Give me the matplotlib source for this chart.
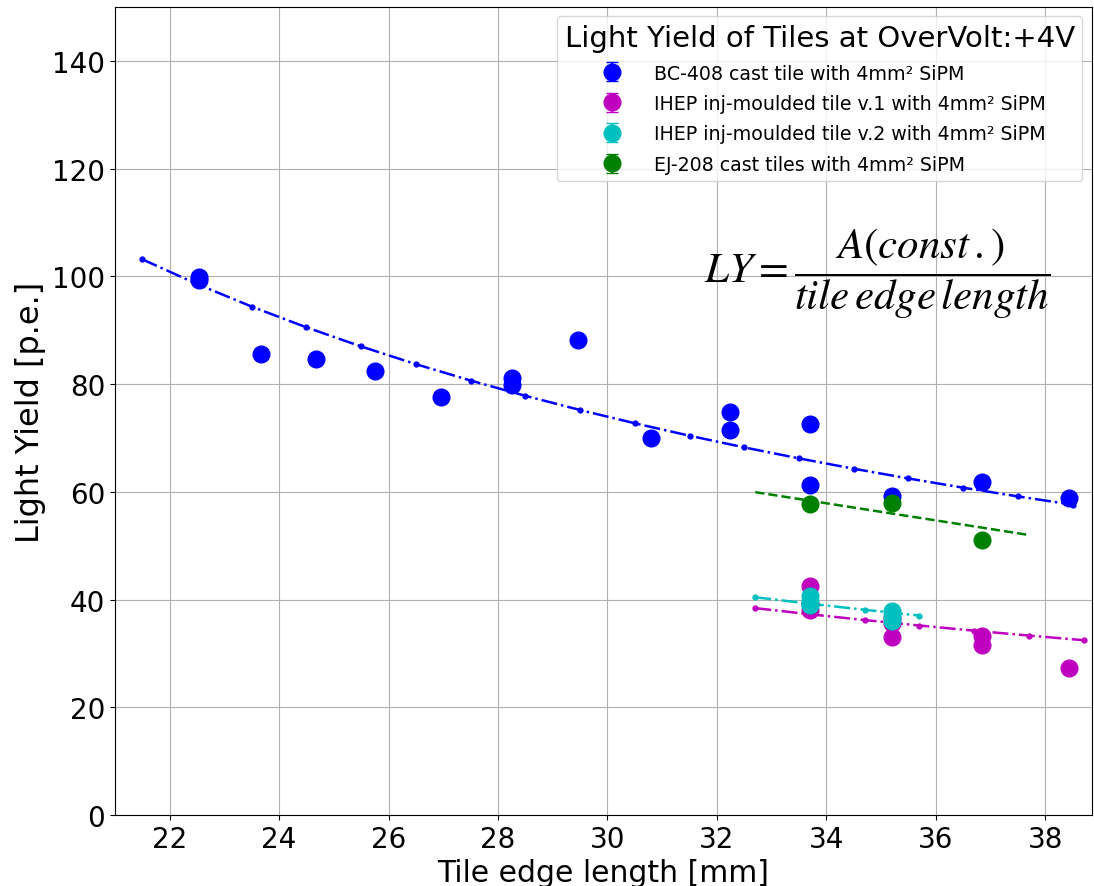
import numpy as np
import matplotlib
matplotlib.use('Agg')
import matplotlib.pyplot as plt

ftsize=20

### Données

# BC-408 cast tile
x_bc=np.array([22.54,22.54,23.67,24.67,25.76,26.95,28.26,28.26,29.47,30.8,32.24,32.24,33.7,33.7,35.2,36.84,38.44])
y_bc=np.array([99.9,99.3,85.6,84.7,82.5,77.6,81.1,79.9,88.2,69.9,74.8,71.5,72.6,61.3,59.3,61.9,58.8])

# IHEP v.1
x_v1=np.array([33.7,33.7,33.7,35.2,35.2,35.2,36.84,36.84,38.44])
y_v1=np.array([42.5,39.2,38.0,36.6,35.6,33.0,33.2,31.5,27.3])

# IHEP v.2
x_v2=np.array([33.7,33.7,33.7,35.2,35.2,35.2])
y_v2=np.array([40.6,39.8,39.0,37.9,36.9,36.1])

# EJ-208
x_ej=np.array([33.7,35.2,36.84])
y_ej=np.array([57.7,57.9,51.1])

dy=0.5

# constantes A des ajustements LY = A/L
A_bc=2218
A_v1=1256
A_v2=1322
A_ej=1960

xfit_bc=np.arange(21.5,39,1)
xfit_v1=np.arange(32.7,39,1)
xfit_v2=np.arange(32.7,36,1)
xfit_ej=np.array([32.7,37.7])

def func(x,A):
    return A/x

### Tracé

fig=plt.figure(figsize=(10.94,8.87),dpi=100)
ax=fig.add_axes([0.105,0.08,0.893,0.911])

ax.errorbar(x_bc,y_bc,yerr=dy,fmt='o',color='b',ms=12,capsize=4,label='BC-408 cast tile with 4mm² SiPM')
ax.errorbar(x_v1,y_v1,yerr=dy,fmt='o',color='m',ms=12,capsize=4,label='IHEP inj-moulded tile v.1 with 4mm² SiPM')
ax.errorbar(x_v2,y_v2,yerr=dy,fmt='o',color='c',ms=12,capsize=4,label='IHEP inj-moulded tile v.2 with 4mm² SiPM')
ax.errorbar(x_ej,y_ej,yerr=dy,fmt='o',color='g',ms=12,capsize=4,label='EJ-208 cast tiles with 4mm² SiPM')

ax.plot(xfit_bc,func(xfit_bc,A_bc),'b.-.',ms=7,lw=1.8)
ax.plot(xfit_v1,func(xfit_v1,A_v1),'m.-.',ms=7,lw=1.8)
ax.plot(xfit_v2,func(xfit_v2,A_v2),'c.-.',ms=7,lw=1.8)
ax.plot(xfit_ej,func(xfit_ej,A_ej),'g--',lw=1.8)

ax.text(34.92,100.6,r'$LY=\dfrac{A\left(const\,.\right)}{tile\,edge\,length}$',fontsize=31,
        ha='center',va='center',math_fontfamily='stix')

ax.set_xlim(21.0,38.85)
ax.set_ylim(0,150)
ax.set_xticks(np.arange(22,39,2))
ax.set_yticks(np.arange(0,141,20))
ax.grid(True)
ax.tick_params(labelsize=ftsize)
ax.set_xlabel('Tile edge length [mm]',fontsize=21.5)
ax.set_ylabel('Light Yield [p.e.]',fontsize=23)
leg=ax.legend(loc='upper right',fontsize=13.7,title='Light Yield of Tiles at OverVolt:+4V',
              title_fontsize=21,labelspacing=0.6,handletextpad=1.2)

fig.savefig('out.png',dpi=100)
